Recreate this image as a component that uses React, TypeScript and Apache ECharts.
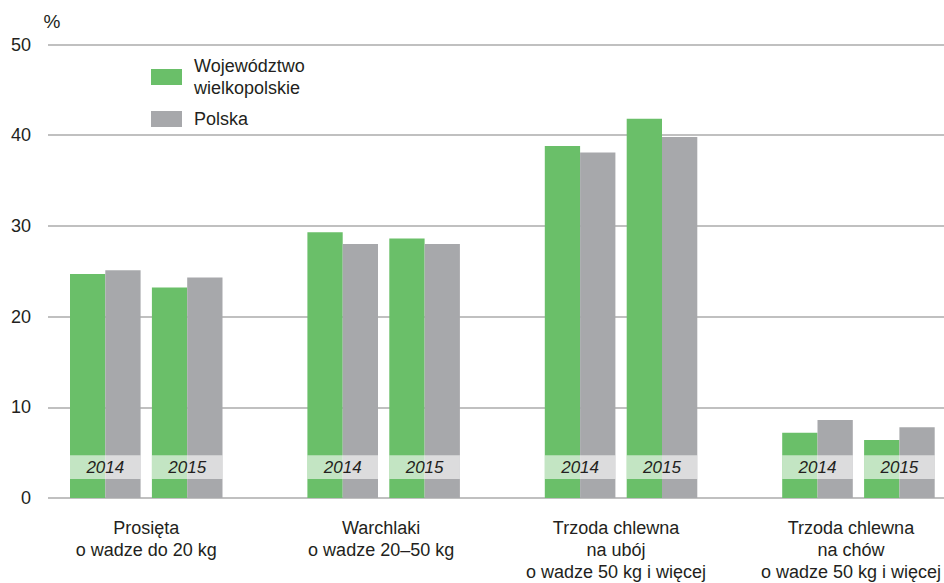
import React, { useEffect, useRef } from "react";
import * as echarts from "echarts";

const categories = [
  "Prosięta\no wadze do 20 kg",
  "Warchlaki\no wadze 20–50 kg",
  "Trzoda chlewna\nna ubój\no wadze 50 kg i więcej",
  "Trzoda chlewna\nna chów\no wadze 50 kg i więcej",
];
const years = ["2014", "2015"];
const seriesNames = ["Województwo wielkopolskie", "Polska"];
const wlkp2014 = [24.7, 29.3, 38.8, 7.2];
const polska2014 = [25.1, 28.0, 38.1, 8.6];
const wlkp2015 = [23.2, 28.6, 41.8, 6.4];
const polska2015 = [24.3, 28.0, 39.8, 7.8];
const yMin = 0;
const yMax = 50;
const yStep = 10;
const bandLow = 2.1;
const bandHigh = 4.7;

const FONT = "'Liberation Sans', Arial, sans-serif";
const GREEN = "#6abf69";
const GREY = "#a7a8ab";
const TEXT = "#231f20";

export default function App() {
  const ref = useRef<HTMLDivElement>(null);
  useEffect(() => {
    if (!ref.current) return;
    const chart = echarts.init(ref.current, undefined, { renderer: "svg" });
    const top = 44.5;
    const bottom = 85;
    const span = 712.2; // distance from first to last category centre
    const barW = 35.3;
    const gridLefts = [105.3, 187.2];
    const yearData = [
      [wlkp2014, polska2014],
      [wlkp2015, polska2015],
    ];
    const grids: any[] = [
      { left: 48, right: 0, top, bottom },
      { left: gridLefts[0], width: span, top, bottom },
      { left: gridLefts[1], width: span, top, bottom },
      { left: 146.25, width: span, top, bottom },
    ];
    const hiddenY = (gi: number) => ({
      type: "value", gridIndex: gi, min: yMin, max: yMax, interval: yStep, show: false,
    });
    const yAxes: any[] = [
      {
        type: "value", gridIndex: 0, min: yMin, max: yMax, interval: yStep,
        name: "%", nameLocation: "end", nameGap: 14,
        nameTextStyle: { fontFamily: FONT, fontSize: 19, color: TEXT, align: "center", padding: [0, 0, 0, 8] },
        axisLine: { show: false }, axisTick: { show: false },
        axisLabel: { fontFamily: FONT, fontSize: 18, color: TEXT, margin: 17, padding: [6, 0, 0, 0] },
        splitLine: { show: true, lineStyle: { color: "#ababab", width: 1.5 } },
      },
      hiddenY(1), hiddenY(2), hiddenY(3),
    ];
    const catAxis = (gi: number) => ({
      type: "category", gridIndex: gi, data: categories, show: false, boundaryGap: false,
    });
    const xAxes: any[] = [
      { type: "category", gridIndex: 0, data: categories, show: false },
    ];
    const series: any[] = [];
    years.forEach((yr, i) => {
      const gi = i + 1;
      const mainX = xAxes.length;
      xAxes.push(catAxis(gi));
      const overX = xAxes.length;
      xAxes.push(catAxis(gi));
      series.push({
        type: "bar", name: seriesNames[0], xAxisIndex: mainX, yAxisIndex: gi,
        data: yearData[i][0], barWidth: barW, barGap: "0%", itemStyle: { color: GREEN }, z: 2,
      });
      series.push({
        type: "bar", name: seriesNames[1], xAxisIndex: mainX, yAxisIndex: gi,
        data: yearData[i][1], barWidth: barW, barGap: "0%", itemStyle: { color: GREY }, z: 2,
      });
      series.push({
        type: "bar", name: "base" + yr, xAxisIndex: overX, yAxisIndex: gi, stack: "band" + yr,
        data: categories.map(() => bandLow), barWidth: barW * 2, silent: true,
        itemStyle: { color: "rgba(0,0,0,0)" }, z: 3,
      });
      series.push({
        type: "bar", name: "band" + yr, xAxisIndex: overX, yAxisIndex: gi, stack: "band" + yr,
        data: categories.map(() => bandHigh - bandLow), barWidth: barW * 2, silent: true,
        itemStyle: { color: "rgba(255,255,255,0.6)" }, z: 3,
        label: {
          show: true, position: "inside", formatter: yr, fontFamily: FONT, fontStyle: "italic",
          fontSize: 17, color: TEXT,
        },
      });
    });
    xAxes.push({
      type: "category", gridIndex: 3, data: categories, position: "bottom", boundaryGap: false,
      axisLine: { show: false }, axisTick: { show: false },
      axisLabel: { fontFamily: FONT, fontSize: 18, lineHeight: 22, color: TEXT, margin: 20, interval: 0 },
    });

    const legendBase = {
      orient: "vertical", padding: 0, itemWidth: 31, itemHeight: 16, left: 151,
      textStyle: { fontFamily: FONT, fontSize: 18, lineHeight: 22, color: TEXT, padding: [0, 0, 0, 7] },
      formatter: (n: string) => n.replace(" ", "\n"),
      selectedMode: false,
    };
    chart.setOption({
      animation: false,
      backgroundColor: "#ffffff",
      grid: grids,
      xAxis: xAxes,
      yAxis: yAxes,
      legend: [
        { ...legendBase, data: [{ name: seriesNames[0], icon: "rect" }], top: 55 },
        { ...legendBase, data: [{ name: seriesNames[1], icon: "rect" }], top: 108 },
      ],
      series,
    });
    return () => chart.dispose();
  }, []);
  return <div ref={ref} style={{ width: 944, height: 583, position: "absolute", left: 0, top: 0 }} />;
}
